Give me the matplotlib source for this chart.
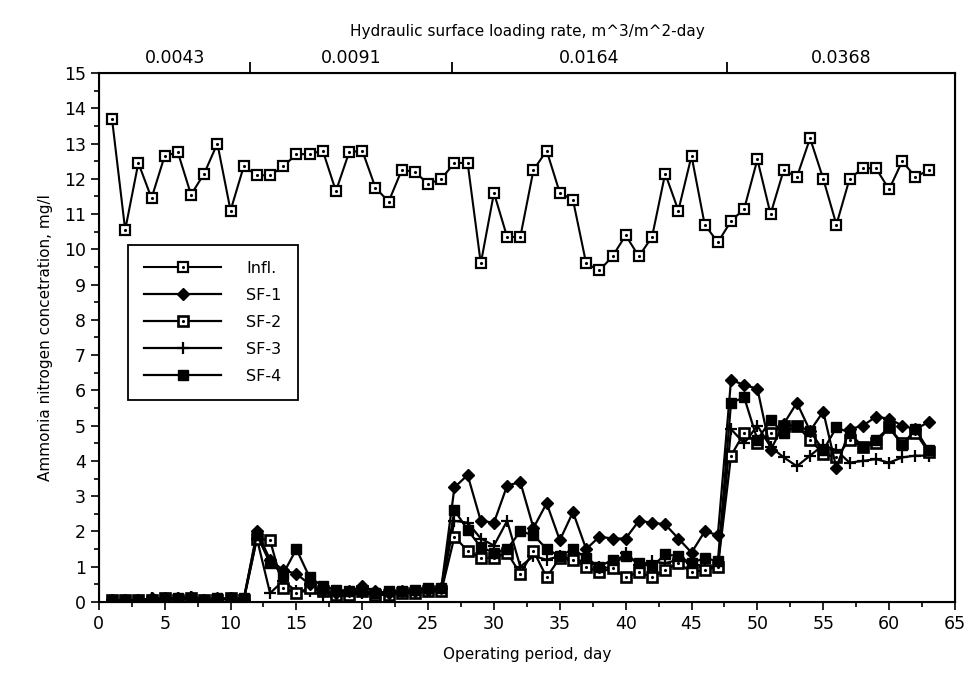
from matplotlib import pyplot as plt
from matplotlib.ticker import MultipleLocator

days = list(range(1, 64))

infl = [13.7, 10.55, 12.45, 11.45, 12.65, 12.75, 11.55, 12.15, 13.0, 11.1,
        12.35, 12.1, 12.1, 12.35, 12.7, 12.7, 12.8, 11.65, 12.75, 12.8,
        11.75, 11.35, 12.25, 12.2, 11.85, 12.0, 12.45, 12.45, 9.6, 11.6,
        10.35, 10.35, 12.25, 12.8, 11.6, 11.4, 9.6, 9.4, 9.8, 10.4,
        9.8, 10.35, 12.15, 11.1, 12.65, 10.7, 10.2, 10.8, 11.15, 12.55,
        11.0, 12.25, 12.05, 13.15, 12.0, 10.7, 12.0, 12.3, 12.3, 11.7,
        12.5, 12.05, 12.25]

sf1 = [0.05, 0.05, 0.05, 0.1, 0.1, 0.1, 0.15, 0.05, 0.1, 0.1, 0.05,
       2.0, 1.2, 0.9, 0.8, 0.5, 0.3, 0.25, 0.3, 0.45, 0.3, 0.25, 0.3, 0.3, 0.35, 0.4,
       3.25, 3.6, 2.3, 2.25, 3.3, 3.4, 2.1, 2.8, 1.75, 2.55, 1.5, 1.85, 1.8, 1.8,
       2.3, 2.25, 2.2, 1.8, 1.4, 2.0, 1.9,
       6.3, 6.15, 6.05, 4.3, 5.05, 5.65, 4.85, 5.4, 3.8, 4.9, 5.0, 5.25, 5.2, 5.0, 4.9, 5.1]

sf2 = [0.05, 0.05, 0.05, 0.05, 0.1, 0.05, 0.1, 0.05, 0.05, 0.1, 0.05,
       1.8, 1.75, 0.4, 0.25, 0.4, 0.3, 0.2, 0.2, 0.3, 0.2, 0.2, 0.25, 0.25, 0.3, 0.3,
       1.85, 1.45, 1.25, 1.25, 1.4, 0.8, 1.45, 0.7, 1.25, 1.2, 1.0, 0.85, 0.95, 0.7,
       0.85, 0.7, 0.9, 1.1, 0.85, 0.9, 1.0,
       4.15, 4.8, 4.5, 4.8, 5.0, 5.0, 4.6, 4.2, 4.1, 4.6, 4.4, 4.5, 4.95, 4.5, 4.8, 4.25]

sf3 = [0.05, 0.05, 0.05, 0.1, 0.05, 0.1, 0.15, 0.05, 0.05, 0.1, 0.05,
       1.8, 0.25, 0.6, 0.3, 0.3, 0.2, 0.15, 0.2, 0.25, 0.2, 0.25, 0.25, 0.3, 0.3, 0.35,
       2.3, 2.25, 1.8, 1.6, 2.3, 1.0, 1.3, 1.2, 1.3, 1.2, 1.15, 1.0, 0.95, 1.4,
       1.05, 1.15, 1.1, 1.2, 1.1, 1.0, 1.0,
       4.9, 4.5, 5.0, 4.4, 4.1, 3.85, 4.15, 4.45, 4.3, 3.95, 4.0, 4.05, 3.95, 4.1, 4.15, 4.15]

sf4 = [0.05, 0.05, 0.05, 0.05, 0.1, 0.1, 0.1, 0.05, 0.1, 0.1, 0.1,
       1.9, 1.1, 0.8, 1.5, 0.7, 0.45, 0.35, 0.3, 0.3, 0.25, 0.3, 0.3, 0.35, 0.4, 0.4,
       2.6, 2.05, 1.55, 1.4, 1.5, 2.0, 1.9, 1.5, 1.3, 1.5, 1.25, 1.0, 1.2, 1.3,
       1.1, 1.0, 1.35, 1.3, 1.1, 1.25, 1.15,
       5.65, 5.8, 4.6, 5.15, 4.8, 5.0, 4.85, 4.3, 4.95, 4.8, 4.4, 4.6, 4.95, 4.45, 4.9, 4.3]

# hydraulic loading periods (top axis)
rate_edges = [11.5, 26.8, 47.7]
rate_labels = ["0.0043", "0.0091", "0.0164", "0.0368"]

plt.rcParams['font.family'] = ['DejaVu Sans']
fig = plt.figure(figsize=(9.69, 6.76), dpi=100)
ax = fig.add_axes([0.102, 0.1095, 0.8835, 0.7825])

lw = 1.6
l_sf3, = ax.plot(days, sf3, color="black", lw=lw, marker="+", ms=8, mew=1.6, zorder=3)
l_sf2, = ax.plot(days, sf2, color="black", lw=lw, marker="s", ms=6.5, mfc="white", mec="black", mew=1.9, zorder=4)
d_sf2, = ax.plot(days, sf2, linestyle="", marker=".", ms=2.5, color="black", zorder=5)
l_sf4, = ax.plot(days, sf4, color="black", lw=lw, marker="s", ms=6.5, zorder=4)
l_sf1, = ax.plot(days, sf1, color="black", lw=lw, marker="D", ms=6, zorder=4)
l_inf, = ax.plot(days, infl, color="black", lw=1.5, marker="s", ms=7, mfc="white", mec="black", mew=1.6, zorder=4)
d_inf, = ax.plot(days, infl, linestyle="", marker=".", ms=2.5, color="black", zorder=5)

ax.set_xlim(0, 65)
ax.set_ylim(0, 15)
ax.xaxis.set_major_locator(MultipleLocator(5))
ax.xaxis.set_minor_locator(MultipleLocator(2.5))
ax.yaxis.set_major_locator(MultipleLocator(1))
ax.yaxis.set_minor_locator(MultipleLocator(0.5))
ax.tick_params(which="both", direction="out", top=False, right=False, width=1.2, labelsize=12.5)
ax.tick_params(which="major", length=6)
ax.tick_params(which="minor", length=3.5)
for s in ax.spines.values():
    s.set_linewidth(1.5)

ax.set_xlabel("Operating period, day", fontsize=11, labelpad=10)
ax.set_ylabel("Ammonia nitrogen concetration, mg/l", fontsize=11, labelpad=8)

top = ax.twiny()
top.set_xlim(ax.get_xlim())
top.set_xticks(rate_edges)
top.set_xticklabels([])
bounds = [0] + rate_edges + [65]
centers = [(bounds[i] + bounds[i + 1]) / 2 for i in range(4)]
top.set_xticks(centers, minor=True)
top.set_xticklabels(rate_labels, minor=True, fontsize=12.5)
top.tick_params(which="major", direction="out", length=8, width=1.3)
top.tick_params(which="minor", length=0, pad=4)
top.set_xlabel("Hydraulic surface loading rate, m^3/m^2-day", fontsize=11, labelpad=10)

leg = ax.legend([(l_inf, d_inf), l_sf1, (l_sf2, d_sf2), l_sf3, l_sf4],
                ["Infl.", "SF-1", "SF-2", "SF-3", "SF-4"],
                loc="upper left", bbox_to_anchor=(0.025, 0.69), fontsize=11.5,
                handlelength=4.8, handletextpad=1.6, labelspacing=0.75,
                borderpad=1.0, fancybox=False, edgecolor="black", framealpha=1)
leg.get_frame().set_linewidth(1.3)

plt.savefig("out.png", dpi=100)
